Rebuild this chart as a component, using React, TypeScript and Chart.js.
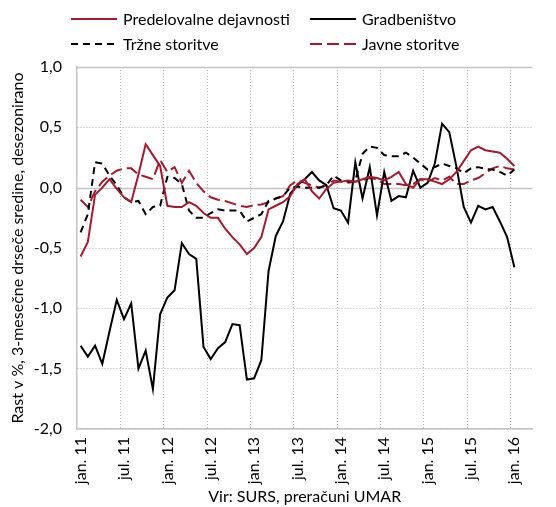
import React, { useEffect, useRef } from 'react';
import { Chart, registerables } from 'chart.js';

Chart.register(...registerables);

const FONT = 'Lato, "Noto Sans", sans-serif';
const RED = '#A6192E';
const BLACK = '#000000';
const GRID = '#b4b4b4';
const AXIS = '#c4c4c4';

const monthNames = ['jan.', 'feb.', 'mar.', 'apr.', 'maj', 'jun.', 'jul.', 'avg.', 'sep.', 'okt.', 'nov.', 'dec.'];
const yearLabels = ['11', '12', '13', '14', '15', '16'];
// categories jan. 11 – mar. 16
const categories: string[] = yearLabels.flatMap((y) => monthNames.map((m) => `${m} ${y}`)).slice(0, 63);
const shownMonths = ['jan.', 'jul.'];

const seriesNames = ['Predelovalne dejavnosti', 'Gradbeništvo', 'Tržne storitve', 'Javne storitve'];

const predelovalne = [
  -0.57, -0.45, -0.06, 0.0, 0.07, -0.01, -0.08, -0.12, 0.11, 0.36, 0.27, 0.18,
  -0.15, -0.16, -0.16, -0.12, -0.15, -0.21, -0.25, -0.25, -0.34, -0.41, -0.47, -0.55,
  -0.5, -0.41, -0.18, -0.15, -0.12, -0.07, 0.03, 0.07, -0.03, -0.09, -0.01, 0.04,
  0.05, 0.06, 0.05, 0.07, 0.09, 0.08, 0.06, 0.09, 0.13, 0.03, 0.0, 0.07,
  0.07, 0.05, 0.03, 0.07, 0.13, 0.22, 0.31, 0.34, 0.31, 0.3, 0.29, 0.24, 0.18,
];

const gradbenistvo = [
  -1.31, -1.4, -1.31, -1.46, -1.19, -0.93, -1.09, -0.96, -1.5, -1.35, -1.67, -1.05,
  -0.91, -0.85, -0.46, -0.55, -0.59, -1.32, -1.42, -1.33, -1.28, -1.13, -1.14, -1.59,
  -1.58, -1.43, -0.69, -0.4, -0.28, -0.05, 0.02, 0.07, 0.13, 0.06, 0.02, -0.17,
  -0.19, -0.29, 0.21, -0.09, 0.17, -0.23, 0.13, -0.11, -0.07, -0.08, 0.14, 0.0,
  0.04, 0.2, 0.53, 0.46, 0.17, -0.16, -0.29, -0.15, -0.18, -0.16, -0.28, -0.41, -0.66,
];

const trzne = [
  -0.37, -0.22, 0.21, 0.2, 0.1, 0.02, -0.08, -0.12, -0.11, -0.22, -0.16, -0.15,
  0.09, 0.08, 0.03, -0.19, -0.25, -0.25, -0.21, -0.18, -0.19, -0.19, -0.19, -0.28,
  -0.25, -0.22, -0.11, -0.09, -0.07, 0.0, 0.01, 0.0, 0.0, 0.0, 0.02, 0.1,
  0.06, 0.05, 0.06, 0.28, 0.34, 0.33, 0.27, 0.26, 0.26, 0.29, 0.25, 0.2,
  0.15, 0.17, 0.2, 0.18, 0.16, 0.12, 0.16, 0.17, 0.155, 0.15, 0.13, 0.1, 0.15,
];

const javne = [
  -0.1, -0.16, -0.03, 0.05, 0.1, 0.14, 0.16, 0.16, 0.11, 0.09, 0.07, 0.23,
  0.13, 0.17, 0.04, 0.14, 0.04, -0.03, -0.08, -0.1, -0.11, -0.13, -0.15, -0.16,
  -0.145, -0.14, -0.12, -0.09, -0.07, 0.02, 0.06, 0.04, 0.02, 0.0, 0.02, 0.06,
  0.05, 0.04, 0.05, 0.06, 0.08, 0.07, 0.03, 0.03, 0.03, 0.02, 0.03, 0.07,
  0.05, 0.08, 0.06, 0.09, 0.03, 0.03, 0.06, 0.08, 0.12, 0.16, 0.18, 0.16, 0.15,
];

const yTitle = 'Rast v %, 3-mesečne drseče sredine, desezonirano';
const xTitle = 'Vir: SURS, preračuni UMAR';

const isShown = (i: number) => shownMonths.some((m) => (categories[i] || '').startsWith(m));

const solidLines = {
  id: 'solidLines',
  beforeDatasetsDraw(chart: any) {
    const { ctx, chartArea, scales } = chart;
    const y = scales.y;
    ctx.save();
    ctx.strokeStyle = AXIS;
    ctx.lineWidth = 1.5;
    ctx.setLineDash([]);
    [y.max, 0].forEach((v: number) => {
      const py = Math.round(y.getPixelForValue(v)) + 0.5;
      ctx.beginPath();
      ctx.moveTo(chartArea.left, py);
      ctx.lineTo(chartArea.right, py);
      ctx.stroke();
    });
    ctx.restore();
  },
};

const legendLayout = { colX: [71, 310], rowY: [19, 44], lineLen: 46, textGap: 6 };

const legendPlugin = {
  id: 'customLegend',
  afterDraw(chart: any) {
    const { ctx } = chart;
    ctx.save();
    chart.data.datasets.forEach((ds: any, i: number) => {
      const x = legendLayout.colX[i % 2];
      const y = legendLayout.rowY[Math.floor(i / 2)];
      ctx.strokeStyle = ds.borderColor;
      ctx.lineWidth = 2;
      ctx.setLineDash(ds.borderDash || []);
      ctx.beginPath();
      ctx.moveTo(x, y);
      ctx.lineTo(x + legendLayout.lineLen, y);
      ctx.stroke();
      ctx.setLineDash([]);
      ctx.fillStyle = '#000';
      ctx.font = `16px ${FONT}`;
      ctx.textBaseline = 'middle';
      ctx.textAlign = 'left';
      ctx.fillText(ds.label, x + legendLayout.lineLen + legendLayout.textGap, y + 1);
    });
    ctx.restore();
  },
};

export default function App() {
  const ref = useRef<HTMLCanvasElement>(null);

  useEffect(() => {
    const canvas = ref.current;
    if (!canvas) return;
    const chart = new Chart(canvas, {
      type: 'line',
      data: {
        labels: categories,
        datasets: [
          { label: seriesNames[0], data: predelovalne, borderColor: RED, borderWidth: 2 },
          { label: seriesNames[1], data: gradbenistvo, borderColor: BLACK, borderWidth: 2 },
          { label: seriesNames[2], data: trzne, borderColor: BLACK, borderWidth: 2, borderDash: [7, 5] },
          { label: seriesNames[3], data: javne, borderColor: RED, borderWidth: 2, borderDash: [12, 5] },
        ],
      },
      options: {
        animation: false,
        responsive: true,
        maintainAspectRatio: false,
        layout: { padding: { top: 67, left: 0, right: 0, bottom: 0 } },
        plugins: { legend: { display: false }, tooltip: { enabled: false } },
        elements: { point: { radius: 0 }, line: { tension: 0, fill: false } },
        scales: {
          x: {
            offset: true,
            grid: {
              offset: true,
              drawTicks: false,
              lineWidth: 1,
              color: (c: any) => (c.index > 0 && isShown(c.index) ? GRID : 'transparent'),
            },
            border: { display: true, color: AXIS, width: 1.5, dash: [1, 2] },
            ticks: {
              autoSkip: false,
              maxRotation: 90,
              minRotation: 90,
              padding: 8,
              color: '#000',
              font: { family: FONT, size: 16 },
              callback: (_v: any, i: number) => (isShown(i) ? categories[i] : ''),
            },
            title: {
              display: true,
              text: xTitle,
              color: '#000',
              font: { family: FONT, size: 16 },
              padding: { top: 0, bottom: 1 },
            },
            afterFit: (s: any) => {
              s.height = 78;
            },
          },
          y: {
            min: -2,
            max: 1,
            ticks: {
              stepSize: 0.5,
              padding: 15,
              color: '#000',
              font: { family: FONT, size: 16 },
              callback: (v: any) => Number(v).toFixed(1).replace('.', ','),
            },
            grid: {
              drawTicks: false,
              lineWidth: 1,
              color: (c: any) =>
                c.tick && (c.tick.value === 0 || c.tick.value === 1) ? 'transparent' : GRID,
            },
            border: { display: true, color: AXIS, width: 1.5, dash: [1, 2] },
            title: {
              display: true,
              text: yTitle,
              color: '#000',
              font: { family: FONT, size: 16 },
              padding: { top: 8, bottom: 0 },
            },
            afterFit: (s: any) => {
              s.width = 77;
            },
          },
        },
      } as any,
      plugins: [solidLines, legendPlugin],
    });
    return () => chart.destroy();
  }, []);

  return (
    <div style={{ position: 'absolute', left: 0, top: 0, width: 556, height: 507, background: '#fff' }}>
      <canvas ref={ref} />
    </div>
  );
}
